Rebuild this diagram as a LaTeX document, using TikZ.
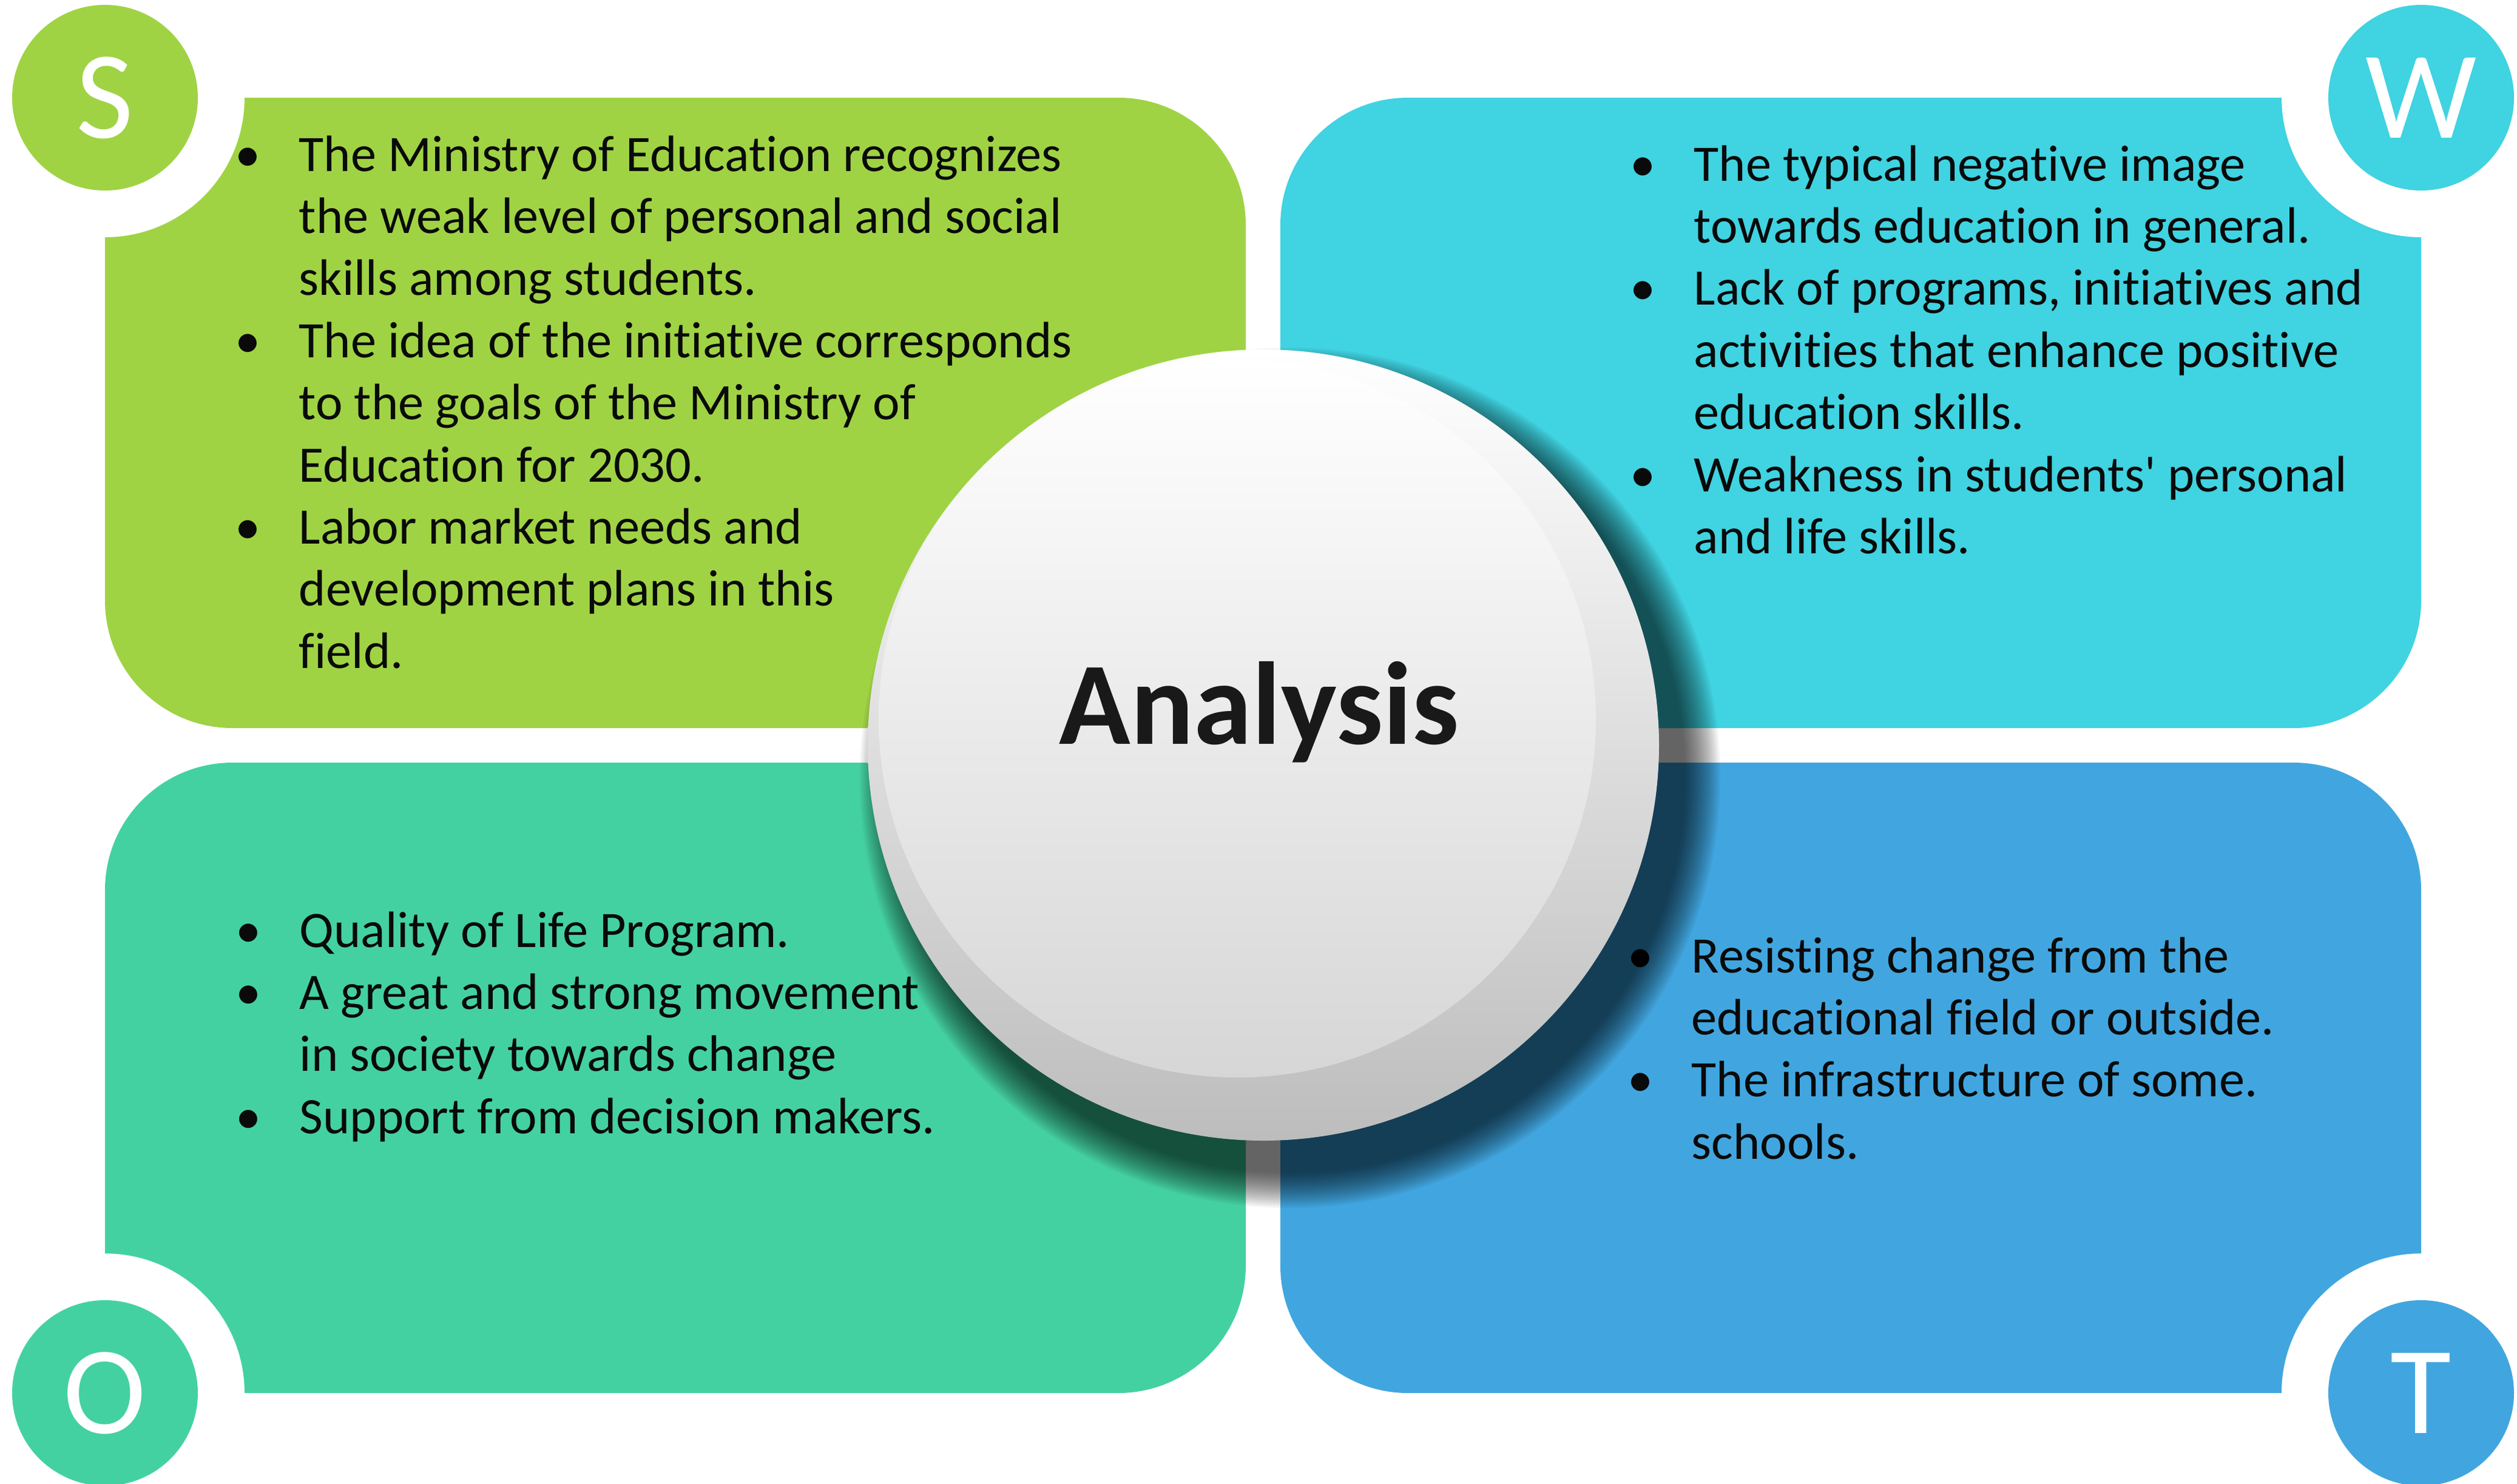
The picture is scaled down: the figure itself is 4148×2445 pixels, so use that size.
\documentclass[tikz,border=0pt]{standalone}
\usepackage{fontspec}
\setmainfont{Carlito}[RawFeature={-liga}]
\definecolor{cS}{HTML}{9FD344}
\definecolor{cW}{HTML}{40D3E1}
\definecolor{cO}{HTML}{44D1A1}
\definecolor{cT}{HTML}{41A6DF}
\definecolor{txt}{HTML}{0A0A0A}
\newcommand{\bl}{\leavevmode\llap{\makebox[42pt]{\textbullet}}}
\newcommand{\bodyfont}{\fontsize{21.1pt}{25.6pt}\selectfont}
\begin{document}
\begin{tikzpicture}[x=0.25pt,y=-0.25pt,
  box/.style={rounded corners=52.5pt},
  badge/.style={circle, inner sep=0pt, minimum size=76.5pt, text=white,
    font=\fontsize{51.5pt}{51.5pt}\selectfont},
  body/.style={anchor=base west, inner sep=0pt, text=txt},
  ball/.style={circle, inner sep=0pt, shading=axis, shading angle=45}]
\useasboundingbox (0,0) rectangle (4148,2445);
\fill[white] (0,0) rectangle (4148,2445);
% quadrants
\fill[cS, box] (173,161) rectangle (2053,1200);
\fill[cW, box] (2110,161) rectangle (3990,1200);
\fill[cO, box] (173,1257) rectangle (2053,2296);
\fill[cT, box] (2110,1257) rectangle (3990,2296);
% white rings round the letter badges
\foreach \p in {(173,161),(3990,161),(173,2296),(3990,2296)}
  \fill[white] \p circle[radius=57.5pt];
\node[badge, fill=cS] (S) at (173,161) {S};
\node[badge, fill=cW] (W) at (3990,161) {W};
\node[badge, fill=cO] (O) at (173,2296) {O};
\node[badge, fill=cT] (T) at (3990,2296) {T};
% texts
\node[body] (tS) at (492,282) {\parbox[t]{420pt}{\bodyfont\raggedright
\bl The Ministry of Education recognizes\\
the weak level of personal and social\\
skills among students.\\
\bl The idea of the initiative corresponds\\
to the goals of the Ministry of\\
Education for 2030.\\
\bl Labor market needs and\\
development plans in this\\
field.}};
\node[body] (tW) at (2791,298) {\parbox[t]{420pt}{\bodyfont\raggedright
\bl The typical negative image\\
towards education in general.\\
\bl Lack of programs, initiatives and\\
activities that enhance positive\\
education skills.\\
\bl Weakness in students\textquotesingle{} personal\\
and life skills.}};
\node[body] (tO) at (493,1561) {\parbox[t]{420pt}{\bodyfont\raggedright
\bl Quality of Life Program.\\
\bl A great and strong movement\\
in society towards change\\
\bl Support from decision makers.}};
\node[body] (tT) at (2787,1603) {\parbox[t]{420pt}{\bodyfont\raggedright
\bl Resisting change from the\\
educational field or outside.\\
\bl The infrastructure of some.\\
schools.}};
% soft shadow of the central disc, cast to the lower right
\foreach \i in {0,...,19}{
  \pgfmathsetmacro{\r}{163+(19-\i)*0.75}
  \fill[black, opacity=0.045] (2126,1282) circle[radius=\r pt];
}
% central disc
\node[ball, minimum size=326pt, top color=white, bottom color=black!26] (core) at (2082,1228) {};
\node[ball, minimum size=295.5pt, top color=white, bottom color=black!16] (coreinner) at (2039,1185) {};
\node[anchor=base, inner sep=0pt, text=black!90,
  font=\bfseries\fontsize{48.5pt}{48.5pt}\selectfont] (title) at (2075,1226) {Analysis};
\end{tikzpicture}
\end{document}
